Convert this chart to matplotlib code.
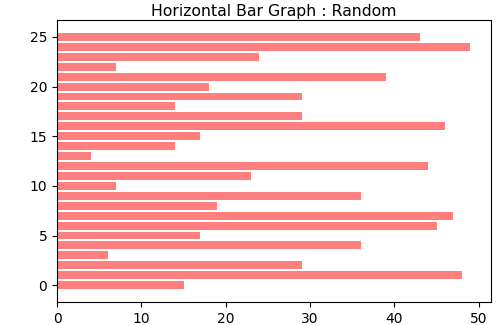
import numpy as np
import matplotlib
matplotlib.use("Agg")
import matplotlib.pyplot as plt

# bar lengths, from y = 0 (bottom) to y = 25 (top)
positions = list(range(26))
values = [15, 48, 29, 6, 36, 17, 45, 47, 19, 36, 7, 23, 44,
          4, 14, 17, 46, 29, 14, 29, 18, 39, 7, 24, 49, 43]
title = "Horizontal Bar Graph : Random"

fig = plt.figure(figsize=(5, 3.25), dpi=100)
ax = fig.add_axes([0.114, 0.071, 0.868, 0.867])

ax.barh(positions, values, color="red", alpha=0.5)
ax.set_title(title, fontsize=11.3, pad=3)

fig.savefig("out.png", dpi=100)
